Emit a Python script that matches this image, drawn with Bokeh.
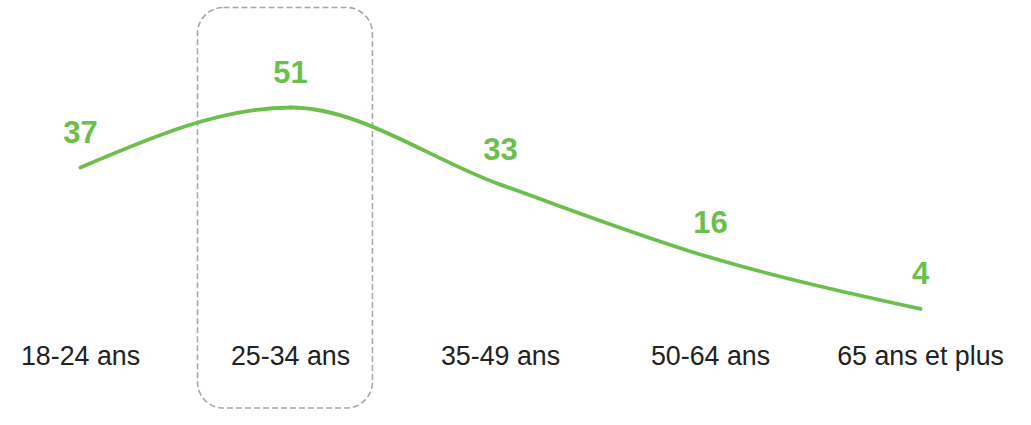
from bokeh.plotting import figure
from bokeh.models import Range1d, ColumnDataSource
from bokeh.core.properties import value
from bokeh.embed import file_html
from bokeh.resources import INLINE

# ---- data ----
categories = ["18-24 ans", "25-34 ans", "35-49 ans", "50-64 ans", "65 ans et plus"]
values = [37, 51, 33, 16, 4]
highlight_index = 1

GREEN = "#6cbf4c"
PX_PER_UNIT = 4.286  # vertical pixels per value unit

W, H = 1015, 409
x_start, x_end = -0.381, 4.452
y_start, y_end = -19.46, 75.97

p = figure(width=W, height=H, output_backend="svg", toolbar_location=None,
           x_range=Range1d(x_start, x_end), y_range=Range1d(y_start, y_end),
           min_border=0, outline_line_color=None, background_fill_color="white")
p.axis.visible = False
p.grid.visible = False

xs = list(range(len(values)))

# ---- highlight box (rounded dashed) ----
p.quad(left=[highlight_index - 0.443], right=[highlight_index + 0.390],
       top=[y_end - 1.63], bottom=[y_start + 0.35],
       fill_color=None, line_color="#a8a8a8", line_width=1.6,
       line_dash="6 3", border_radius=26)

# ---- monotone cubic (d3 monotoneX) through data, as bezier segments ----
n = len(values)
h = [xs[i + 1] - xs[i] for i in range(n - 1)]
s = [(values[i + 1] - values[i]) / h[i] for i in range(n - 1)]
t = [0.0] * n
def sign(v):
    return (v > 0) - (v < 0)
for i in range(1, n - 1):
    h0, h1 = h[i - 1], h[i]
    s0, s1 = s[i - 1], s[i]
    pp = (s0 * h1 + s1 * h0) / (h0 + h1)
    t[i] = (sign(s0) + sign(s1)) * min(abs(s0), abs(s1), 0.5 * abs(pp))
t[0] = (3 * s[0] - t[1]) / 2
t[-1] = (3 * s[-1] - t[-2]) / 2

bz = dict(x0=[], y0=[], x1=[], y1=[], cx0=[], cy0=[], cx1=[], cy1=[])
for i in range(n - 1):
    dx = (xs[i + 1] - xs[i]) / 3
    bz["x0"].append(xs[i]); bz["y0"].append(values[i])
    bz["x1"].append(xs[i + 1]); bz["y1"].append(values[i + 1])
    bz["cx0"].append(xs[i] + dx); bz["cy0"].append(values[i] + dx * t[i])
    bz["cx1"].append(xs[i + 1] - dx); bz["cy1"].append(values[i + 1] - dx * t[i + 1])
p.bezier(x0="x0", y0="y0", x1="x1", y1="y1", cx0="cx0", cy0="cy0", cx1="cx1", cy1="cy1",
         source=ColumnDataSource(bz), line_color=GREEN, line_width=3.8, line_cap="round")

# ---- value labels ----
val_src = ColumnDataSource(dict(x=xs, y=[v + 36 / PX_PER_UNIT for v in values],
                                t=[str(v) for v in values]))
p.text(x="x", y="y", text="t", source=val_src, text_align="center",
       text_baseline="alphabetic", text_color=GREEN, text_font=value("Liberation Sans"),
       text_font_style="bold", text_font_size="31px")

# ---- category labels ----
cat_src = ColumnDataSource(dict(x=xs, y=[-30 / PX_PER_UNIT] * n, t=categories))
p.text(x="x", y="y", text="t", source=cat_src, text_align="center",
       text_baseline="alphabetic", text_color="#222222", text_font=value("Liberation Sans"),
       text_font_size="26.8px")

open("out.html", "w").write(file_html(p, INLINE))
